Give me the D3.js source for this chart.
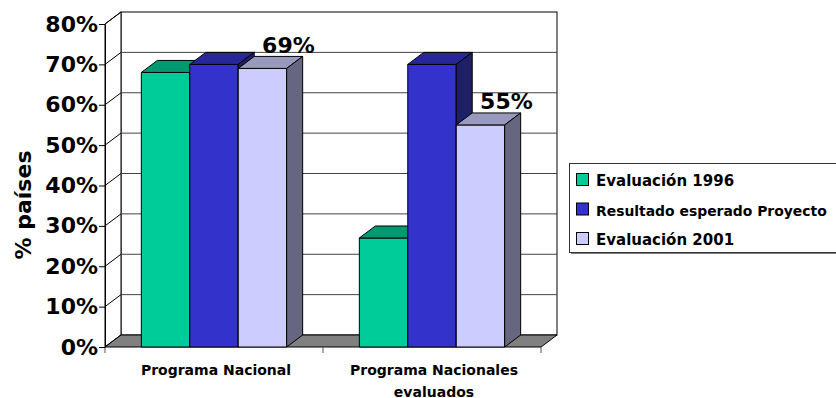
<!DOCTYPE html>
<html>
<head>
<meta charset="utf-8">
<script src="https://cdn.jsdelivr.net/npm/d3@7"></script>
<style>
  body { margin: 0; background: #fff; }
  svg { display: block; }
  text { font-family: "DejaVu Sans", Verdana, sans-serif; font-weight: bold; fill: #000; }
</style>
</head>
<body>
<svg id="chart" width="836" height="398"></svg>
<script>
// Categories and series
const categories = ["Programa Nacional", "Programa Nacionales evaluados"];
const series = ["Evaluación 1996", "Resultado esperado Proyecto", "Evaluación 2001"];

// Values (% of countries) per series, one per category
const eval1996 = [68, 27];
const expectedResult = [70, 70];
const eval2001 = [69, 55];

// Value axis ticks
const yTicks = [0, 10, 20, 30, 40, 50, 60, 70, 80];

// Only the 2001 evaluation carries value labels
const labelledSeries = ["Evaluación 2001"];

const values = [eval1996, expectedResult, eval2001];

// Face colours of each series: front, top, side
const frontColor = ["#00CC99", "#3333CC", "#CCCCFF"];
const topColor   = ["#009970", "#27279A", "#9999BF"];
const sideColor  = ["#006650", "#1F1F66", "#666680"];

const svg = d3.select("#chart");
const W = 836, H = 398;
svg.append("rect").attr("width", W).attr("height", H).attr("fill", "#fff");

// Plot frame: front plane and 3D depth offset
const plot = { left: 105, right: 541, top: 24, bottom: 347 };
const dx = 16, dy = -12;

const y = d3.scaleLinear().domain([0, 80]).range([plot.bottom, plot.top]);
const x0 = d3.scaleBand().domain(categories).range([plot.left, plot.right]);
const x1 = d3.scaleBand().domain(series).range([0, x0.bandwidth()])
  .paddingInner(0).paddingOuter(0.75);

const line = d3.line();

// Back wall
svg.append("rect")
  .attr("x", plot.left + dx).attr("y", y(80) + dy)
  .attr("width", plot.right - plot.left).attr("height", y(0) - y(80))
  .attr("fill", "#fff").attr("stroke", "#000");

// Side wall
svg.append("path")
  .attr("d", line([[plot.left, y(80)], [plot.left + dx, y(80) + dy],
                   [plot.left + dx, y(0) + dy], [plot.left, y(0)]]) + "Z")
  .attr("fill", "#fff").attr("stroke", "#000");

// Gridlines on the back wall and their diagonals on the side wall
const grid = svg.append("g");
yTicks.filter(t => t > 0 && t < 80).forEach(t => {
  grid.append("line")
    .attr("x1", plot.left + dx).attr("x2", plot.right + dx)
    .attr("y1", y(t) + dy).attr("y2", y(t) + dy)
    .attr("stroke", "#444").attr("stroke-width", 1);
});
yTicks.forEach(t => {
  grid.append("line")
    .attr("x1", plot.left).attr("y1", y(t))
    .attr("x2", plot.left + dx).attr("y2", y(t) + dy)
    .attr("stroke", "#000");
});

// Floor
svg.append("path")
  .attr("d", line([[plot.left, y(0)], [plot.right, y(0)],
                   [plot.right + dx, y(0) + dy], [plot.left + dx, y(0) + dy]]) + "Z")
  .attr("fill", "#808080").attr("stroke", "#000");

// Category tick marks below the floor
const catEdges = categories.map(c => x0(c)).concat([x0.range()[1]]);
svg.append("g").selectAll("line").data(catEdges).join("line")
  .attr("x1", d => d).attr("x2", d => d)
  .attr("y1", y(0)).attr("y2", y(0) + 6)
  .attr("stroke", "#555");

// Value axis
const yAxis = d3.axisLeft(y).tickValues(yTicks).tickSize(6).tickSizeOuter(0)
  .tickPadding(1).tickFormat(d => d + "%");
const yg = svg.append("g").attr("transform", `translate(${plot.left},0)`).call(yAxis);
yg.select(".domain").attr("stroke", "#000");
yg.selectAll(".tick line").attr("stroke", "#000");
yg.selectAll(".tick text")
  .style("font-family", '"DejaVu Sans", Verdana, sans-serif')
  .style("font-weight", "bold").style("font-size", "22px").attr("fill", "#000");

// Axis title
svg.append("text")
  .attr("transform", "translate(31,205) rotate(-90)")
  .attr("text-anchor", "middle")
  .style("font-size", "22px")
  .text("% países");

// 3D bars, drawn left to right so each bar hides its neighbour's side face
const bars = svg.append("g");
categories.forEach((cat, i) => {
  series.forEach((s, j) => {
    const v = values[j][i];
    const x = x0(cat) + x1(s);
    const w = x1.bandwidth();
    const yt = y(v), yb = y(0);
    const g = bars.append("g");
    g.append("path")
      .attr("d", line([[x, yt], [x + w, yt], [x + w, yb], [x, yb]]) + "Z")
      .attr("fill", frontColor[j]).attr("stroke", "#000");
    g.append("path")
      .attr("d", line([[x, yt], [x + dx, yt + dy], [x + w + dx, yt + dy], [x + w, yt]]) + "Z")
      .attr("fill", topColor[j]).attr("stroke", "#000");
    g.append("path")
      .attr("d", line([[x + w, yt], [x + w + dx, yt + dy], [x + w + dx, yb + dy], [x + w, yb]]) + "Z")
      .attr("fill", sideColor[j]).attr("stroke", "#000");
  });
});

// Value labels
series.forEach((s, j) => {
  if (!labelledSeries.includes(s)) return;
  categories.forEach((cat, i) => {
    const v = values[j][i];
    const cx = x0(cat) + x1(s) + x1.bandwidth() / 2;
    svg.append("text")
      .attr("x", cx + 26).attr("y", y(v) - 15.5)
      .attr("text-anchor", "middle")
      .style("font-size", "22px")
      .text(v + "%");
  });
});

// Category labels, wrapped to the band
const catG = svg.append("g");
categories.forEach(cat => {
  const t = catG.append("text")
    .attr("text-anchor", "middle")
    .style("font-size", "14px");
  const cx = x0(cat) + x0.bandwidth() / 2 + 2;
  const words = cat.split(" ");
  let lines = [], cur = [];
  words.forEach(wd => {
    const trial = cur.concat([wd]).join(" ");
    t.text(trial);
    if (t.node().getComputedTextLength() > 180 && cur.length) {
      lines.push(cur.join(" "));
      cur = [wd];
    } else {
      cur.push(wd);
    }
  });
  lines.push(cur.join(" "));
  t.text(null);
  lines.forEach((ln, k) => {
    t.append("tspan").attr("x", cx).attr("y", 375 + k * 22).text(ln);
  });
});

// Legend
const legend = svg.append("g");
const lx = 569.5, ly = 163.5, lw = 290, lh = 89;
legend.append("rect").attr("x", lx + 1.5).attr("y", ly + 1.5)
  .attr("width", lw).attr("height", lh).attr("fill", "#808080");
legend.append("rect").attr("x", lx).attr("y", ly)
  .attr("width", lw).attr("height", lh)
  .attr("fill", "#fff").attr("stroke", "#333");
series.forEach((s, j) => {
  const base = 186 + j * 29.5;
  legend.append("rect")
    .attr("x", 576.5).attr("y", base - 12.5)
    .attr("width", 12).attr("height", 12)
    .attr("fill", frontColor[j]).attr("stroke", "#000");
  const t = legend.append("text")
    .attr("x", 596).attr("y", base)
    .style("font-size", "15px")
    .text(s);
  // shrink long entries to fit the legend width
  const len = t.node().getComputedTextLength();
  if (len > 231) t.style("font-size", (15 * 231 / len).toFixed(2) + "px");
});
</script>
</body>
</html>
